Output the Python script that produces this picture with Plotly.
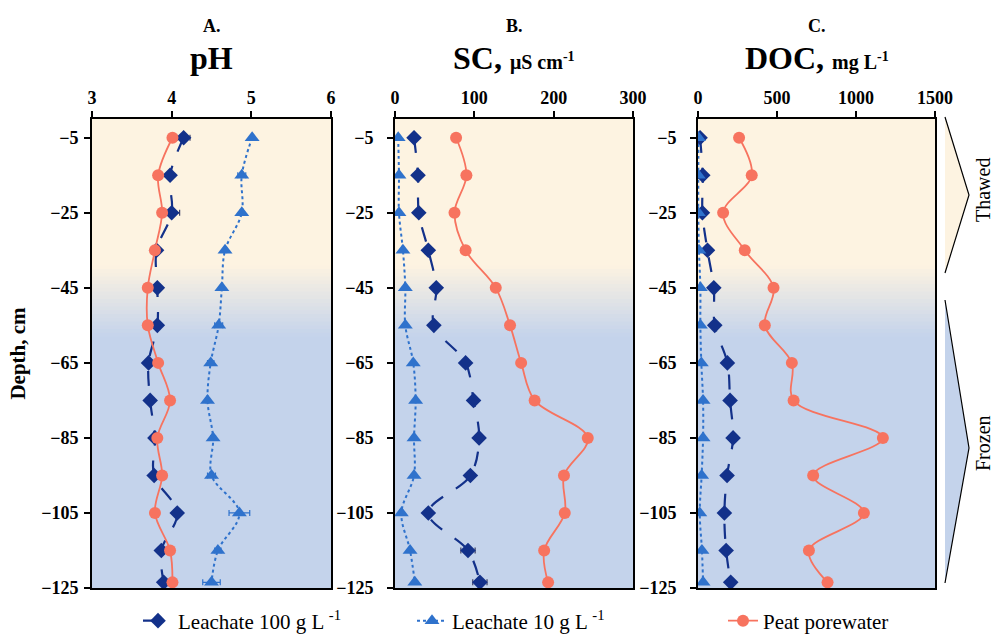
import plotly.graph_objects as go

# ---------------- data ----------------
depth = [-5, -15, -25, -35, -45, -55, -65, -75, -85, -95, -105, -115, -123.5]

ph_l100 = [4.15, 3.98, 4.00, 3.81, 3.82, 3.82, 3.71, 3.73, 3.79, 3.78, 4.07, 3.87, 3.90]
ph_l100_err = [0.08, 0.03, 0.10, 0.02, 0.02, 0.02, 0.02, 0.02, 0.02, 0.02, 0.04, 0.03, 0.03]
ph_l10 = [5.01, 4.88, 4.88, 4.67, 4.63, 4.59, 4.49, 4.45, 4.52, 4.50, 4.85, 4.58, 4.50]
ph_l10_err = [0.02, 0.05, 0.02, 0.02, 0.02, 0.05, 0.04, 0.02, 0.03, 0.05, 0.13, 0.04, 0.11]
ph_peat = [4.01, 3.83, 3.88, 3.79, 3.70, 3.70, 3.83, 3.98, 3.82, 3.88, 3.79, 3.98, 4.01]

sc_l100 = [24, 29, 30, 42, 52, 49, 89, 99, 106, 95, 42, 92, 107]
sc_l100_err = [1, 1, 1, 1, 1, 1, 2, 1, 1, 2, 1, 9, 9]
sc_l10 = [4, 5, 5, 10, 13, 13, 23, 26, 24, 24, 8, 19, 25]
sc_peat = [77, 90, 75, 89, 127, 145, 159, 176, 243, 213, 214, 188, 193]

doc_l100 = [13, 30, 28, 60, 100, 106, 186, 203, 222, 184, 167, 178, 207]
doc_l10 = [3, 2, 2, 6, 15, 15, 21, 32, 32, 23, 11, 25, 32]
doc_peat = [260, 340, 159, 296, 478, 423, 594, 605, 1170, 729, 1050, 702, 820]

depth_ticks = [-5, -25, -45, -65, -85, -105, -125]
series_names = ["Leachate 100 g L <sup>-1</sup>", "Leachate 10 g L <sup>-1</sup>", "Peat porewater"]

# ---------------- styles ----------------
W, H = 995, 634
C100 = "#13318A"
C10 = "#2F72CC"
CPEAT = "#F7735F"
SERIF = "Liberation Serif"

def px(x):
    return x / W

def py(y):
    return 1 - y / H

panels = [
    (92, 331, [3, 6], [3, 4, 5, 6]),
    (395, 633, [0, 300], [0, 100, 200, 300]),
    (698, 935, [0, 1500], [0, 500, 1000, 1500]),
]
y_top, y_bot = 119, 588

fig = go.Figure()

data_sets = [
    (ph_l100, ph_l100_err, ph_l10, ph_l10_err, ph_peat),
    (sc_l100, sc_l100_err, sc_l10, None, sc_peat),
    (doc_l100, None, doc_l10, None, doc_peat),
]

legends = ["legend", "legend2", "legend3"]

for i, (l100, e100, l10, e10, peat) in enumerate(data_sets):
    xa = "x" if i == 0 else f"x{i+1}"
    ya = "y" if i == 0 else f"y{i+1}"
    show = i == 0
    fig.add_trace(go.Scatter(
        x=l100, y=depth, xaxis=xa, yaxis=ya, name=series_names[0],
        mode="lines+markers", line=dict(color=C100, width=2.2, dash="longdash", shape="spline"),
        marker=dict(symbol="diamond", size=12, color=C100),
        error_x=dict(type="data", array=e100, color="#3a3f66", thickness=1.2, width=3, visible=e100 is not None),
        showlegend=show, legend=legends[0]))
    fig.add_trace(go.Scatter(
        x=l10, y=depth, xaxis=xa, yaxis=ya, name=series_names[1],
        mode="lines+markers", line=dict(color=C10, width=2, dash="dot", shape="spline"),
        marker=dict(symbol="triangle-up", size=13, color=C10),
        error_x=dict(type="data", array=e10, color=C10, thickness=1.2, width=3, visible=e10 is not None),
        showlegend=show, legend=legends[1]))
    fig.add_trace(go.Scatter(
        x=peat, y=depth, xaxis=xa, yaxis=ya, name=series_names[2],
        mode="lines+markers", line=dict(color=CPEAT, width=1.8, shape="spline"),
        marker=dict(symbol="circle", size=12, color=CPEAT),
        showlegend=show, legend=legends[2]))

# ---------------- axes ----------------
axis_font = dict(family=SERIF, size=18, color="black", weight="bold")
layout = dict(
    width=W, height=H, margin=dict(l=0, r=0, t=0, b=0, autoexpand=False),
    paper_bgcolor="white", plot_bgcolor="rgba(0,0,0,0)",
    font=dict(family=SERIF, color="black"),
)
for i, (x0, x1, rng, tv) in enumerate(panels):
    sfx = "" if i == 0 else str(i + 1)
    layout[f"xaxis{sfx}"] = dict(
        domain=[px(x0), px(x1)], range=rng, tickvals=tv, side="top",
        anchor=f"y{sfx}", showgrid=False, zeroline=False, showline=True, linecolor="black",
        linewidth=2, mirror=True, ticks="outside", ticklen=6, tickwidth=1.5, tickcolor="black",
        tickfont=axis_font,
    )
    layout[f"yaxis{sfx}"] = dict(
        domain=[py(y_bot), py(y_top)], range=[-125, 0], tickvals=depth_ticks,
        anchor=f"x{sfx}", showgrid=False, zeroline=False, showline=True, linecolor="black",
        linewidth=2, mirror=True, ticks="outside", ticklen=6, tickwidth=1.5, tickcolor="black",
        tickfont=axis_font, ticklabelstandoff=2 if i == 0 else 10,
    )
layout["yaxis"]["title"] = dict(text="Depth, cm", font=dict(family=SERIF, size=21, color="black", weight="bold"), standoff=10)

# legends
leg_common = dict(orientation="h", yanchor="middle", y=py(621), xanchor="left",
                  font=dict(family=SERIF, size=21, color="black"), bgcolor="rgba(0,0,0,0)",
                  itemwidth=30, tracegroupgap=0)
layout["legend"] = dict(leg_common, x=px(138))
layout["legend2"] = dict(leg_common, x=px(412))
layout["legend3"] = dict(leg_common, x=px(723))

fig.update_layout(**layout)

# ---------------- background gradient ----------------
cream = (253, 243, 225)
blue = (196, 211, 235)
shapes = []
g0, g1 = -39.0, -58.0
for i in range(3):
    sfx = "" if i == 0 else str(i + 1)
    xr = f"x{sfx} domain"
    yr = f"y{sfx}"
    shapes.append(dict(type="rect", xref=xr, yref=yr, x0=0, x1=1, y0=0, y1=g0 - 0.5,
                       fillcolor="rgb(%d,%d,%d)" % cream, line=dict(width=0), layer="below"))
    n = 19
    for k in range(n):
        t = (k + 0.5) / n
        c = tuple(round(cream[j] + (blue[j] - cream[j]) * t) for j in range(3))
        ya0 = g0 + (g1 - g0) * k / n
        ya1 = g0 + (g1 - g0) * (k + 1) / n - 0.5
        shapes.append(dict(type="rect", xref=xr, yref=yr, x0=0, x1=1, y0=ya0, y1=ya1,
                           fillcolor="rgb(%d,%d,%d)" % c, line=dict(width=0), layer="below"))
    shapes.append(dict(type="rect", xref=xr, yref=yr, x0=0, x1=1, y0=g1, y1=-125,
                       fillcolor="rgb(%d,%d,%d)" % blue, line=dict(width=0), layer="below"))

# ---------------- arrows ----------------
def tri(top, tip, bot, ax0=945, ax1=969):
    return (f"M {px(ax0)},{py(top)} L {px(ax1)},{py(tip)} L {px(ax0)},{py(bot)} Z",
            f"M {px(ax0)},{py(top)} L {px(ax1)},{py(tip)} L {px(ax0)},{py(bot)}")

for (top, tip, bot, col) in [(117, 195, 273, cream), (300, 448, 583, blue)]:
    fpath, lpath = tri(top, tip, bot)
    shapes.append(dict(type="path", xref="paper", yref="paper", path=fpath,
                       fillcolor="rgb(%d,%d,%d)" % col, line=dict(width=0)))
    shapes.append(dict(type="path", xref="paper", yref="paper", path=lpath,
                       fillcolor="rgba(0,0,0,0)", line=dict(color="black", width=1.2)))
fig.update_layout(shapes=shapes)

# ---------------- annotations ----------------
ann = []
titles = [("A.", "<b>pH</b>"),
          ("B.", "<b>SC, </b><span style='font-size:20px'><b>μS cm<sup>-1</sup></b></span>"),
          ("C.", "<b>DOC, </b><span style='font-size:20px'><b>mg L<sup>-1</sup></b></span>")]
for (x0, x1, _, _), (lab, ttl) in zip(panels, titles):
    cx = px((x0 + x1) / 2)
    ann.append(dict(xref="paper", yref="paper", x=cx, y=py(26), text=f"<b>{lab}</b>", showarrow=False,
                    font=dict(family=SERIF, size=18, color="black"), xanchor="center", yanchor="middle"))
    ann.append(dict(xref="paper", yref="paper", x=cx, y=py(58), text=ttl, showarrow=False,
                    font=dict(family=SERIF, size=32, color="black"), xanchor="center", yanchor="middle"))
ann.append(dict(xref="paper", yref="paper", x=px(983), y=py(190), text="Thawed", textangle=-90,
                xanchor="center", yanchor="middle",
                showarrow=False, font=dict(family=SERIF, size=20, color="black")))
ann.append(dict(xref="paper", yref="paper", x=px(983), y=py(443), text="Frozen", textangle=-90,
                xanchor="center", yanchor="middle",
                showarrow=False, font=dict(family=SERIF, size=20, color="black")))
fig.update_layout(annotations=ann)

fig.write_html(
    "out.html",
    config={"displayModeBar": False},
    post_script="document.body.style.margin='0';document.body.style.overflow='hidden';window.dispatchEvent(new Event('resize'));",
)
